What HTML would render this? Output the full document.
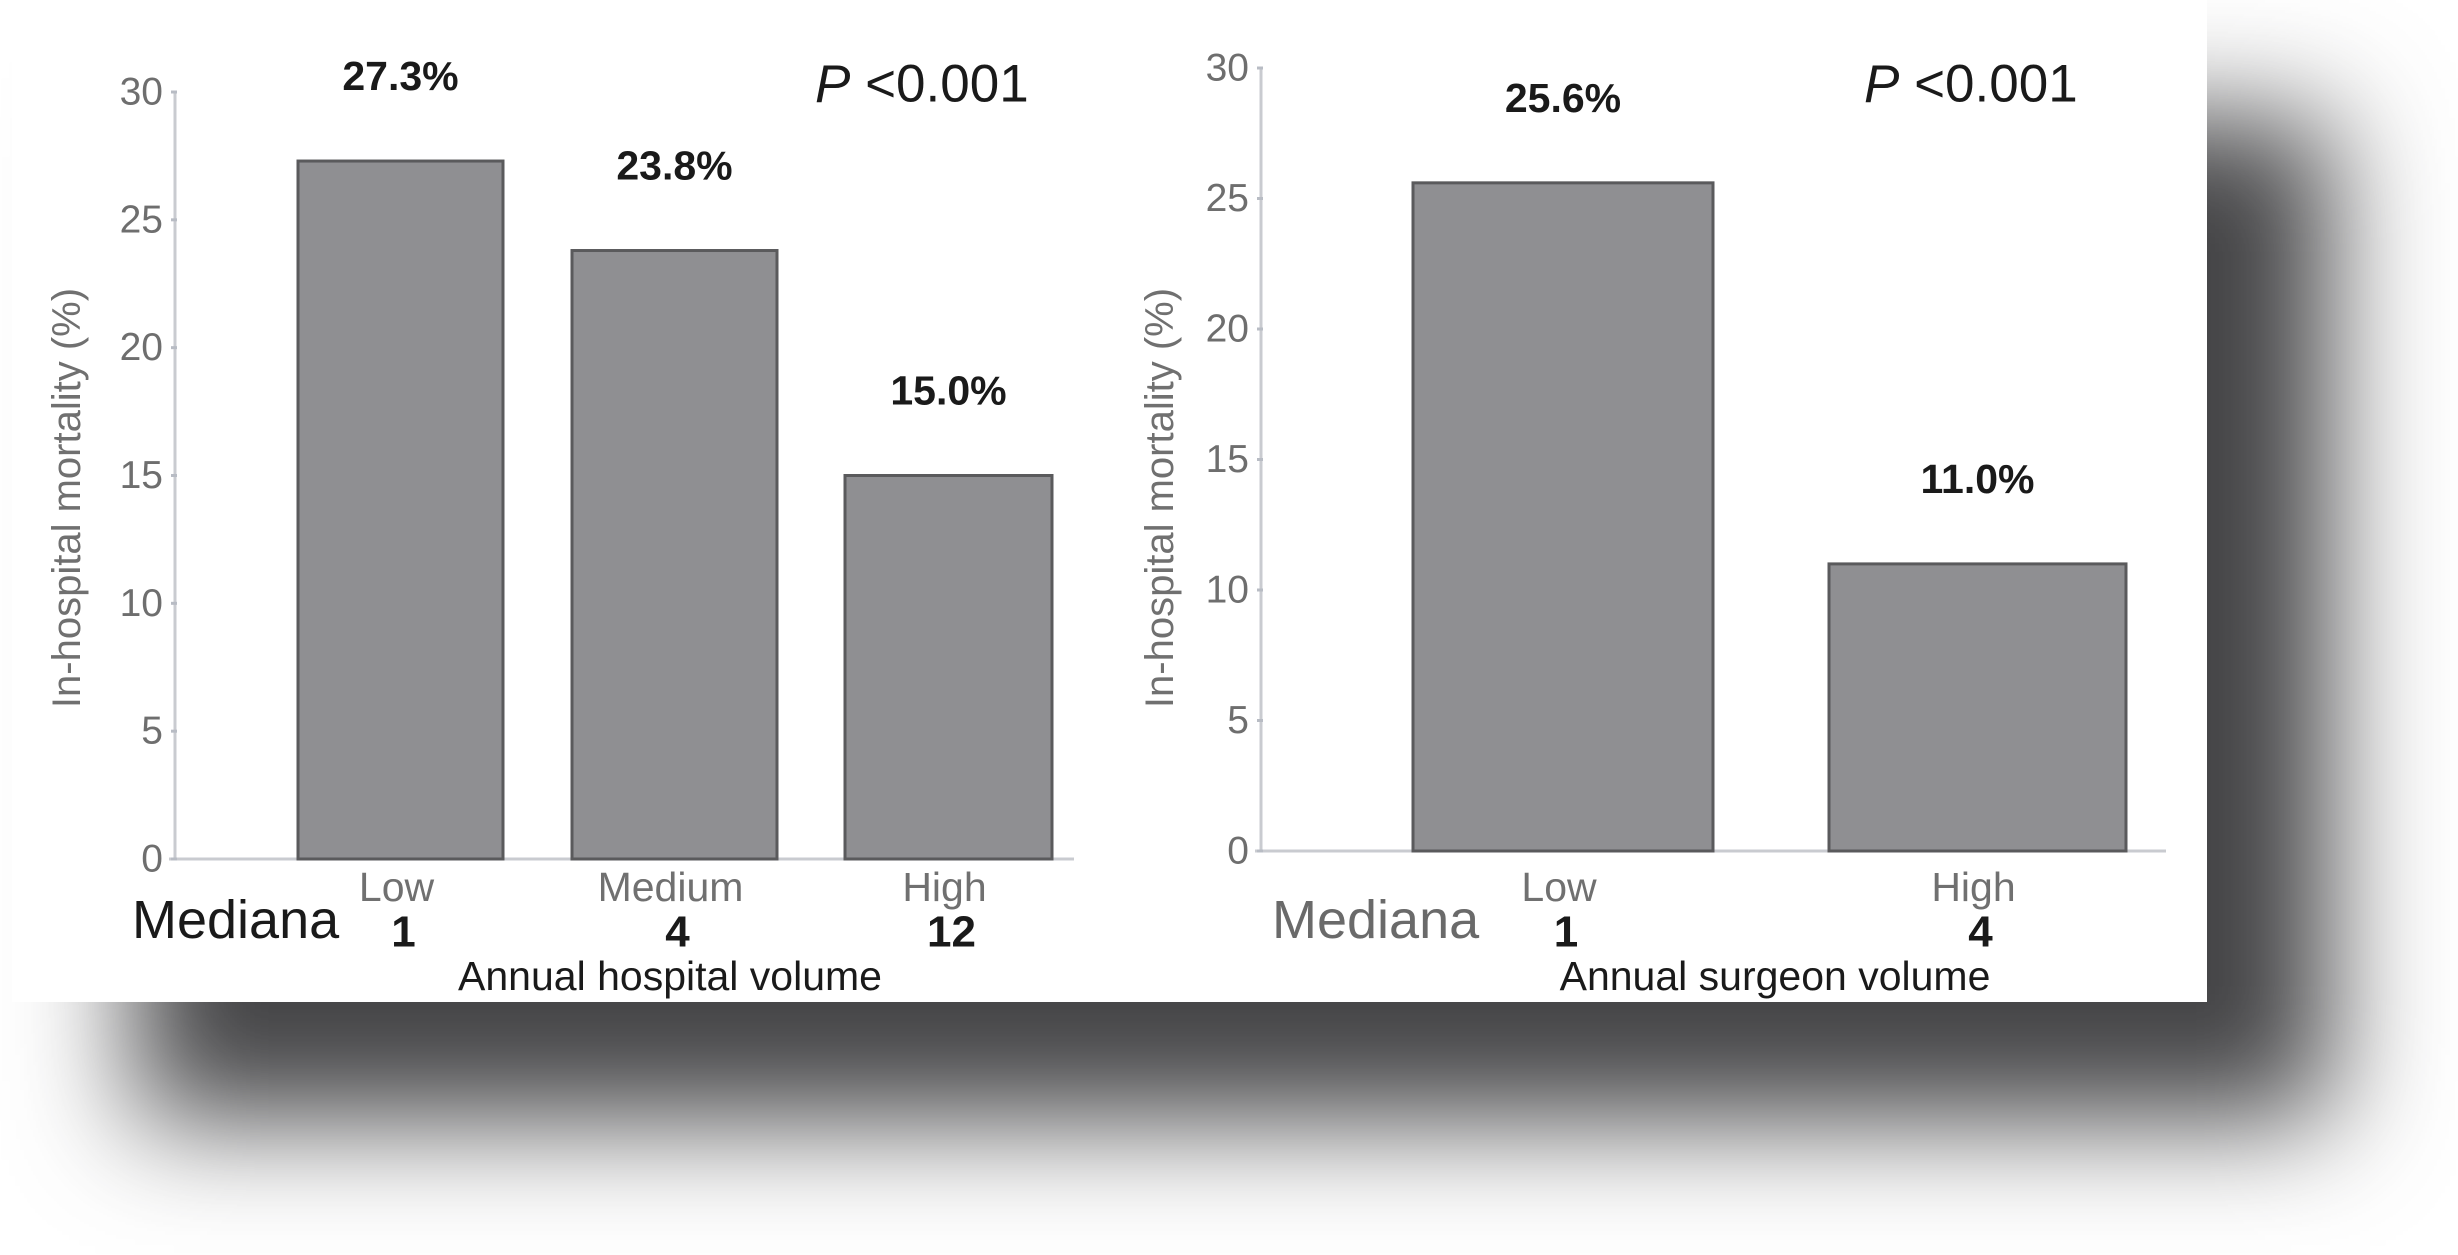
<!DOCTYPE html>
<html><head><meta charset="utf-8"><style>
html,body{margin:0;padding:0;background:#fff;}
#wrap{position:relative;width:2458px;height:1255px;overflow:hidden;background:#fff;}
#panel{position:absolute;left:12px;top:0;width:2195px;height:1002px;background:#fff;box-shadow:123px 118px 110px #454547;}
svg{position:absolute;left:0;top:0;}
text{font-family:"Liberation Sans",Arial,sans-serif;}
</style></head><body>
<div id="wrap">
<div id="panel"></div>
<svg id="chart" width="2458" height="1255"></svg>
</div>
<script>
const ticks=[0,5,10,15,20,25,30];
const hospCats=["Low","Medium","High"];
const hospVals=[27.3,23.8,15.0];
const hospLabels=["27.3%","23.8%","15.0%"];
const hospMedians=["1","4","12"];
const surgCats=["Low","High"];
const surgVals=[25.6,11.0];
const surgLabels=["25.6%","11.0%"];
const surgMedians=["1","4"];

const NS="http://www.w3.org/2000/svg";
const svg=document.getElementById('chart');
function mk(tag,attrs,txt){const e=document.createElementNS(NS,tag);for(const k in attrs)e.setAttribute(k,attrs[k]);if(txt!==undefined)e.textContent=txt;svg.appendChild(e);return e;}

function panel(cfg){
  const y=v=>cfg.y0-(v/30)*(cfg.y0-cfg.y30);
  let e=mk('line',{x1:cfg.ax,y1:y(30),x2:cfg.ax,y2:y(0),stroke:'#c9cbd0','stroke-width':3});
  
  
  e=mk('line',{x1:cfg.ax-6,y1:y(0),x2:cfg.axEnd,y2:y(0),stroke:'#c9cbd0','stroke-width':3});
  
  
  ticks.forEach(t=>{
    let tk=mk('line',{x1:cfg.ax-4,y1:y(t),x2:cfg.ax+2,y2:y(t),stroke:'#b8bcc4','stroke-width':3});
    
    
    let tl=mk('text',{x:cfg.ax-12,y:y(t),'text-anchor':'end','dominant-baseline':'central','font-size':39,fill:'#6e6e6e'},String(t));
    
    
  });
  cfg.vals.forEach((v,i)=>{
    const [x1,x2]=cfg.bars[i];
    let r=mk('rect',{x:x1,y:y(v),width:x2-x1,height:y(0)-y(v),fill:'#8f8f92',stroke:'#5a5a5c','stroke-width':3});
    
    
    const cx=(x1+x2)/2;
    let l=mk('text',{x:cx,y:y(v)-85,'text-anchor':'middle','dominant-baseline':'central','font-size':41,'font-weight':'bold',fill:'#1a1a1a'},cfg.labels[i]);
    
    
    let c=mk('text',{x:cx-4,y:887,'text-anchor':'middle','dominant-baseline':'central','font-size':41,fill:'#707070'},cfg.cats[i]);
    
    
    let m=mk('text',{x:cx+3,y:932,'text-anchor':'middle','dominant-baseline':'central','font-size':44,'font-weight':'bold',fill:'#1a1a1a'},cfg.meds[i]);
    
    
  });
  let t=mk('text',{x:cfg.ytx,y:498,'text-anchor':'middle','dominant-baseline':'central','font-size':40,fill:'#707070',transform:'rotate(-90 '+cfg.ytx+' 498)'},'In-hospital mortality (%)');
  
  
  t=mk('text',{x:cfg.xtx,y:976,'text-anchor':'middle','dominant-baseline':'central','font-size':41,fill:'#1a1a1a'},cfg.xtitle);
  
  
  t=mk('text',{x:cfg.medX,y:938,'font-size':54,fill:cfg.medColor},'Mediana');
  
  
  t=mk('text',{x:cfg.px,y:84,'dominant-baseline':'central','font-size':53,fill:'#1a1a1a'});
  
  
  const ts=document.createElementNS(NS,'tspan');ts.setAttribute('font-style','italic');ts.textContent='P';t.appendChild(ts);
  t.appendChild(document.createTextNode(' <0.001'));
}
panel({id:'hospital',ax:175,axEnd:1074,y0:859,y30:92,cats:hospCats,vals:hospVals,labels:hospLabels,meds:hospMedians,
  bars:[[298,503],[572,777],[845,1052]],ytx:67,xtx:670,xtitle:'Annual hospital volume',medX:132,medColor:'#1a1a1a',px:815});
panel({id:'surgeon',ax:1261,axEnd:2166,y0:851,y30:68,cats:surgCats,vals:surgVals,labels:surgLabels,meds:surgMedians,
  bars:[[1413,1713],[1829,2126]],ytx:1160,xtx:1775,xtitle:'Annual surgeon volume',medX:1272,medColor:'#6a6a6a',px:1864});
</script>
</body></html>
